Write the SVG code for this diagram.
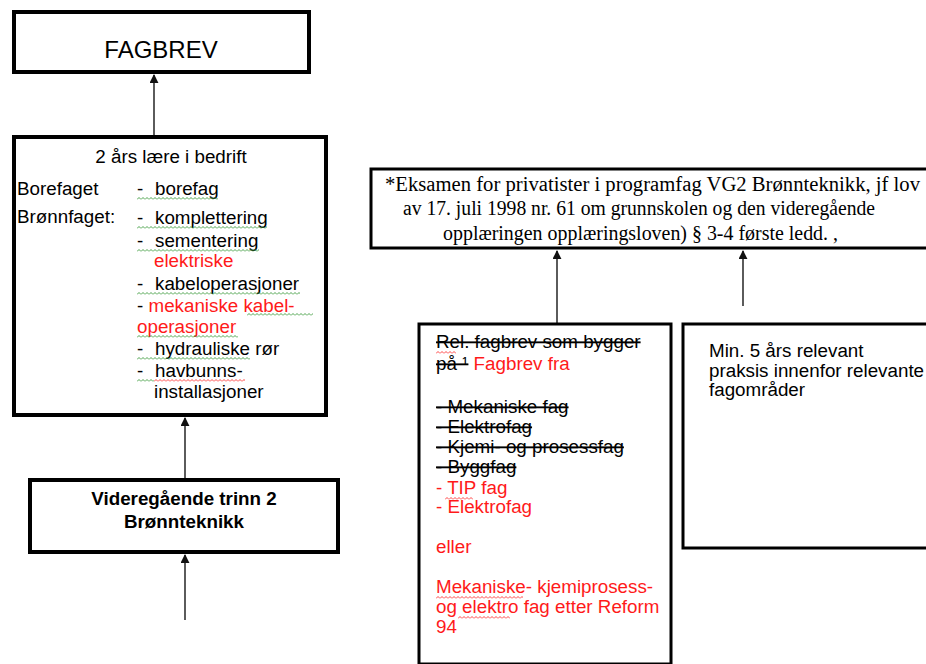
<svg xmlns="http://www.w3.org/2000/svg" width="926" height="664" viewBox="0 0 926 664">
<style>
.box{fill:#fff;stroke:#000;stroke-width:4}
.box3{fill:#fff;stroke:#000;stroke-width:3}
.t{font-family:"Liberation Sans",Arial,sans-serif;font-size:18.8px;fill:#000}
.r{fill:#ff1a1a}
.s{font-family:"Liberation Serif","Times New Roman",serif;font-size:20px;fill:#000}
.b{font-weight:bold}
.st{text-decoration:line-through}
.con{stroke:#333;stroke-width:1.6;fill:none}
</style>
<defs>
<marker id="ah" viewBox="0 0 10 10" refX="9" refY="5" markerWidth="9" markerHeight="9" markerUnits="userSpaceOnUse" orient="auto">
<path d="M0,0 L10,5 L0,10 z" fill="#111"/>
</marker>
<pattern id="sqg" patternUnits="userSpaceOnUse" width="4" height="3">
<path d="M0,2.5 L2,0.5 L4,2.5" fill="none" stroke="#3a9a3a" stroke-width="0.9"/>
</pattern>
<pattern id="sqr" patternUnits="userSpaceOnUse" width="4" height="3">
<path d="M0,2.5 L2,0.5 L4,2.5" fill="none" stroke="#ff3030" stroke-width="0.9"/>
</pattern>
</defs>

<g id="connectors">
<line class="con" x1="154" y1="135" x2="154" y2="75" marker-end="url(#ah)"/>
<line class="con" x1="185" y1="478" x2="185" y2="418" marker-end="url(#ah)"/>
<line class="con" x1="185" y1="620" x2="185" y2="555" marker-end="url(#ah)"/>
<line class="con" x1="557" y1="323" x2="557" y2="251" marker-end="url(#ah)"/>
<line class="con" x1="743" y1="306" x2="743" y2="251" marker-end="url(#ah)"/>
</g>

<g id="fagbrev">
<rect class="box" x="14" y="12" width="295" height="60"/>
<text class="t" x="161" y="58" text-anchor="middle" style="font-size:24px">FAGBREV</text>
</g>

<g id="laere">
<rect class="box" x="14" y="137" width="312" height="278"/>
<text class="t" x="171" y="163" text-anchor="middle">2 års lære i bedrift</text>
<text class="t" x="17" y="195">Borefaget</text>
<text class="t" x="17" y="223">Brønnfaget:</text>
<text class="t" x="137" y="195">-<tspan x="155">borefag</tspan></text>
<text class="t" x="137" y="224">-<tspan x="155">komplettering</tspan></text>
<text class="t" x="137" y="247">-<tspan x="155">sementering</tspan></text>
<text class="t r" x="154" y="267">elektriske</text>
<text class="t" x="137" y="290">-<tspan x="155">kabeloperasjoner</tspan></text>
<text class="t" x="137" y="312">- <tspan class="r">mekaniske kabel-</tspan></text>
<text class="t r" x="137" y="333">operasjoner</text>
<text class="t" x="137" y="355">-<tspan x="155">hydrauliske rør</tspan></text>
<text class="t" x="137" y="377">-<tspan x="155">havbunns-</tspan></text>
<text class="t" x="154" y="398">installasjoner</text>
<rect transform="translate(137,197)" width="81" height="3" fill="url(#sqg)"/>
<rect transform="translate(137,226)" width="130" height="3" fill="url(#sqg)"/>
<rect transform="translate(137,249)" width="122" height="3" fill="url(#sqg)"/>
<rect transform="translate(137,292)" width="163" height="3" fill="url(#sqg)"/>
<rect transform="translate(247,313)" width="66" height="3" fill="url(#sqg)"/>
<rect transform="translate(137,335)" width="101" height="3" fill="url(#sqg)"/>
<rect transform="translate(137,357)" width="113" height="3" fill="url(#sqg)"/>
<rect transform="translate(137,379)" width="17" height="3" fill="url(#sqg)"/>
<rect transform="translate(154,379)" width="91" height="3" fill="url(#sqr)"/>
</g>

<g id="vg2">
<rect class="box" x="30" y="480" width="308" height="72"/>
<text class="t b" x="184" y="505" text-anchor="middle">Videregående trinn 2</text>
<text class="t b" x="184" y="528" text-anchor="middle">Brønnteknikk</text>
</g>

<g id="eksamen">
<rect class="box3" x="371" y="169" width="560" height="79"/>
<text class="s" x="385" y="191" textLength="535" lengthAdjust="spacingAndGlyphs">*Eksamen for privatister i programfag VG2 Brønnteknikk, jf lov</text>
<text class="s" x="403" y="215" textLength="472" lengthAdjust="spacingAndGlyphs">av 17. juli 1998 nr. 61 om grunnskolen og den videregående</text>
<text class="s" x="443" y="240" textLength="395" lengthAdjust="spacingAndGlyphs">opplæringen opplæringsloven) § 3-4 første ledd. ,</text>
</g>

<g id="relfagbrev">
<rect class="box3" x="419" y="324" width="252" height="340"/>
<text class="t st" x="436" y="348">Rel. fagbrev som bygger</text>
<text class="t" x="436" y="370"><tspan class="st">på ¹</tspan><tspan class="r"> Fagbrev fra</tspan></text>
<text class="t st" x="436" y="413">- Mekaniske fag</text>
<text class="t st" x="436" y="433">- Elektrofag</text>
<text class="t st" x="436" y="453">- Kjemi- og prosessfag</text>
<text class="t st" x="436" y="473">- Byggfag</text>
<text class="t r" x="436" y="494">- TIP fag</text>
<text class="t r" x="436" y="513">- Elektrofag</text>
<text class="t r" x="436" y="553">eller</text>
<text class="t r" x="436" y="593">Mekaniske- kjemiprosess-</text>
<text class="t r" x="436" y="613">og elektro fag etter Reform</text>
<text class="t r" x="436" y="633">94</text>
<rect transform="translate(436,351)" width="20" height="3" fill="url(#sqr)"/>
<rect transform="translate(445,497)" width="28" height="3" fill="url(#sqr)"/>
<rect transform="translate(436,596)" width="87" height="3" fill="url(#sqr)"/>
<rect transform="translate(458,616)" width="52" height="3" fill="url(#sqr)"/>
</g>

<g id="praksis">
<rect class="box3" x="683" y="324" width="250" height="224"/>
<text class="t" x="709" y="357">Min. 5 års relevant</text>
<text class="t" x="709" y="377">praksis innenfor relevante</text>
<text class="t" x="709" y="396">fagområder</text>
</g>
</svg>
